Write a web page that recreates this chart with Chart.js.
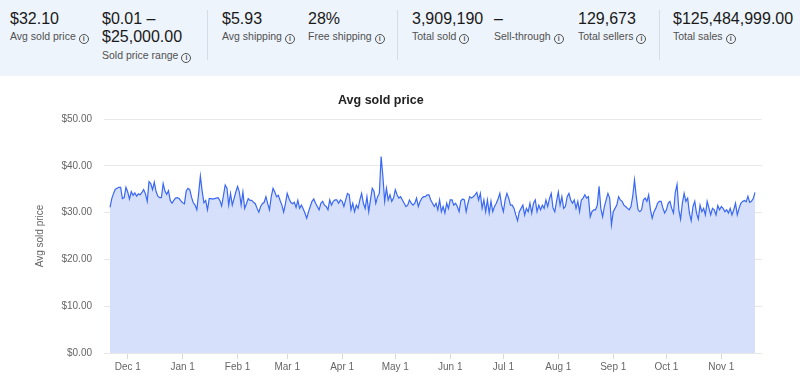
<!DOCTYPE html>
<html>
<head>
<meta charset="utf-8">
<script src="https://cdn.jsdelivr.net/npm/chart.js@4.4.1/dist/chart.umd.min.js"></script>
<style>
  html, body { margin: 0; padding: 0; background: #fff; width: 800px; height: 381px; overflow: hidden; font-family: "Liberation Sans", Arial, sans-serif; }
  #hdr { position: absolute; left: 0; top: 0; width: 800px; height: 76px; background: #eef4fc; }
  .stat { position: absolute; top: 0; white-space: nowrap; }
  .num { position: absolute; left: 0; top: 10px; font-size: 16px; line-height: 18px; color: #191919; white-space: nowrap; }
  .lbl { position: absolute; left: 0; top: 30px; font-size: 10.5px; line-height: 12px; color: #505050; white-space: nowrap; }
  .info { display: inline-block; box-sizing: border-box; width: 10px; height: 10px; border: 1px solid #505050; border-radius: 50%; font-size: 7px; line-height: 8px; text-align: center; font-weight: bold; margin-left: 3px; vertical-align: -1px; color: #505050; }
  .div { position: absolute; top: 10px; width: 1px; height: 50px; background: #d6dce6; }
  #wrap { position: absolute; left: 0; top: 76px; width: 800px; height: 305px; }
</style>
</head>
<body>
<div id="hdr">
  <div class="stat" style="left:10px"><div class="num">$32.10</div><div class="lbl">Avg sold price<span class="info">i</span></div></div>
  <div class="stat" style="left:102px"><div class="num">$0.01 –<br>$25,000.00</div><div class="lbl" style="top:49px">Sold price range<span class="info">i</span></div></div>
  <div class="div" style="left:207px"></div>
  <div class="stat" style="left:222px"><div class="num">$5.93</div><div class="lbl">Avg shipping<span class="info">i</span></div></div>
  <div class="stat" style="left:308px"><div class="num">28%</div><div class="lbl">Free shipping<span class="info">i</span></div></div>
  <div class="div" style="left:397px"></div>
  <div class="stat" style="left:412px"><div class="num">3,909,190</div><div class="lbl">Total sold<span class="info">i</span></div></div>
  <div class="stat" style="left:494px"><div class="num">–</div><div class="lbl">Sell-through<span class="info">i</span></div></div>
  <div class="stat" style="left:578px"><div class="num">129,673</div><div class="lbl">Total sellers<span class="info">i</span></div></div>
  <div class="div" style="left:659px"></div>
  <div class="stat" style="left:673px"><div class="num">$125,484,999.00</div><div class="lbl">Total sales<span class="info">i</span></div></div>
</div>
<div id="wrap"><canvas id="c" width="800" height="305"></canvas></div>
<script>
// ---- data ----
const startDate = [2022, 10, 21]; // first day of the series (Nov 21)
const monthNames = ['Jan','Feb','Mar','Apr','May','Jun','Jul','Aug','Sep','Oct','Nov','Dec'];
const avgSoldPrice = [
  31.1,33.0,34.1,35.0,35.2,35.4,35.4,33.0,33.2,35.4,
  34.4,32.9,34.5,33.7,34.2,33.5,34.0,33.8,34.3,34.9,
  34.0,32.4,36.6,36.2,34.9,36.5,34.5,33.5,33.2,33.2,
  36.2,34.6,33.9,34.7,32.6,32.0,32.6,33.1,33.2,33.0,
  32.5,32.1,31.9,34.6,35.2,34.9,33.3,32.1,31.6,30.6,
  34.0,37.8,34.6,32.1,32.6,30.6,33.0,33.0,32.9,33.0,
  33.1,33.2,32.6,31.4,33.6,35.9,35.2,31.6,34.1,31.6,
  33.0,34.4,35.6,34.4,31.6,34.4,30.9,31.9,33.0,32.6,
  32.6,32.2,31.9,30.9,30.1,31.3,31.9,32.2,33.4,31.9,
  30.6,33.4,35.2,34.4,33.4,33.7,32.6,31.6,30.1,31.9,
  34.1,33.0,32.2,31.9,32.2,31.1,32.6,30.9,31.6,30.8,
  29.9,28.8,30.1,31.3,32.4,32.9,32.0,31.3,30.6,32.0,
  32.4,31.6,31.3,30.6,32.7,31.6,32.4,32.7,32.7,32.0,
  32.7,32.4,31.3,32.7,34.1,33.8,30.6,32.0,30.2,31.6,
  30.9,32.7,34.1,32.0,30.9,33.4,30.2,32.7,35.2,34.5,
  32.0,33.4,34.1,42.0,37.7,32.4,35.2,32.7,33.8,32.4,
  33.1,34.9,33.8,33.1,33.4,32.7,32.0,31.3,31.6,32.7,
  32.0,31.6,32.0,33.1,31.3,32.4,33.1,33.4,33.4,33.8,
  33.8,32.7,32.0,31.3,32.0,30.6,32.7,30.2,31.3,29.9,
  32.0,30.9,32.7,32.7,31.6,32.0,31.3,30.2,32.5,32.9,
  32.7,30.2,32.0,33.4,33.1,33.4,33.8,34.3,32.7,34.1,
  30.9,32.7,30.2,32.7,29.9,32.4,30.2,31.3,32.0,32.9,
  34.1,31.6,30.2,32.7,34.1,33.1,31.6,31.6,30.9,29.5,
  28.3,30.2,30.9,31.6,29.5,30.9,30.2,32.0,29.9,32.0,
  32.7,30.2,31.6,30.6,31.6,30.9,32.7,31.3,33.0,34.1,
  31.0,30.2,32.4,34.4,31.6,33.4,30.9,31.3,33.4,34.1,
  32.7,32.0,32.7,30.9,32.4,30.2,32.7,33.1,33.8,33.1,
  33.4,29.1,30.2,30.6,30.6,31.6,35.6,30.9,29.1,31.3,
  32.7,34.1,33.1,27.4,30.2,30.9,31.6,33.4,32.7,32.4,
  31.6,31.3,30.9,30.6,31.3,33.5,37.0,33.4,30.6,30.2,
  30.6,32.7,33.1,32.4,33.8,30.6,28.8,30.2,30.9,32.0,
  32.4,32.4,31.0,29.9,30.6,32.0,32.4,30.9,29.9,34.3,
  36.0,30.6,28.6,32.0,34.1,32.4,33.1,29.9,28.3,31.3,
  32.4,29.9,28.6,31.6,30.2,30.9,29.5,32.4,31.0,29.5,
  30.9,30.6,29.5,31.5,30.6,31.3,30.9,30.2,30.6,29.9,
  30.9,29.5,30.6,32.0,29.5,30.9,32.0,32.4,32.6,32.3,
  33.5,32.2,32.4,33.0,34.3
];
const yTicksMax = 50;
const yTicksStep = 10;

// ---- derived ----
const days = avgSoldPrice.map((v, i) => new Date(startDate[0], startDate[1], startDate[2] + i));
const points = avgSoldPrice.map((v, i) => ({ x: i, y: v }));
const monthStartIdx = days.map((d, i) => d.getDate() === 1 ? i : -1).filter(i => i >= 0);
const dayLabel = i => { const d = days[i]; return d ? monthNames[d.getMonth()] + ' ' + d.getDate() : ''; };

Chart.defaults.font.family = '"Liberation Sans", Arial, sans-serif';

new Chart(document.getElementById('c'), {
  type: 'line',
  data: {
    datasets: [{
      data: points,
      borderColor: '#3a68f2',
      borderWidth: 1.2,
      backgroundColor: '#d6e0fa',
      fill: 'origin',
      pointRadius: 0,
      tension: 0
    }]
  },
  options: {
    responsive: false,
    animation: false,
    events: [],
    layout: { padding: { left: 0, right: 38.3, top: 0, bottom: 0 } },
    plugins: {
      legend: { display: false },
      tooltip: { enabled: false },
      title: {
        display: true,
        text: 'Avg sold price',
        color: '#222',
        font: { size: 12.5, weight: 'bold' },
        padding: { top: 17, bottom: 11 }
      }
    },
    scales: {
      x: {
        type: 'linear',
        min: -3.39,
        max: 367.78,
        afterBuildTicks: s => { s.ticks = monthStartIdx.map(v => ({ value: v })); },
        afterFit: s => { s.height = 28; },
        grid: { drawOnChartArea: false, drawTicks: true, tickLength: 6, color: '#d9d9d9' },
        border: { display: false },
        ticks: { autoSkip: false, maxRotation: 0, padding: 2, color: '#666', font: { size: 10 }, callback: v => dayLabel(v) }
      },
      y: {
        min: 0,
        max: yTicksMax,
        afterFit: s => { s.width = 104; },
        grid: { drawTicks: false, color: '#e8e8e8' },
        border: { display: false },
        ticks: { stepSize: yTicksStep, padding: 12, color: '#666', font: { size: 10 }, callback: v => '$' + Number(v).toFixed(2) },
        title: { display: true, text: 'Avg sold price', color: '#666', font: { size: 10 }, padding: { top: 34, bottom: 0 } }
      }
    }
  }
});
</script>
</body>
</html>
